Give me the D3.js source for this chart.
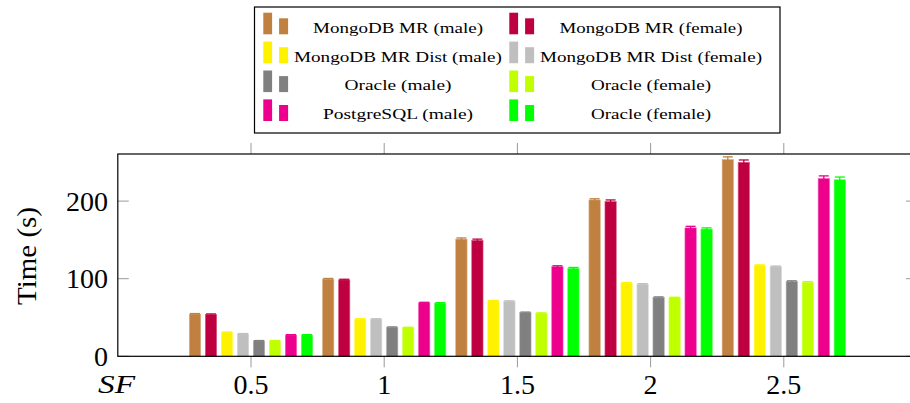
<!DOCTYPE html>
<html>
<head>
<meta charset="utf-8">
<script src="https://cdn.jsdelivr.net/npm/d3@7"></script>
<style>
  body { margin: 0; background: #fff; }
  svg { display: block; }
  text { font-family: "Liberation Serif", "DejaVu Serif", serif; fill: #000; }
</style>
</head>
<body>
<svg id="chart" width="910" height="403"></svg>
<script>
// scale factors (x axis) and y ticks
var groups = [0.5, 1, 1.5, 2, 2.5];
var xTickLabels = ["0.5", "1", "1.5", "2", "2.5"];
var yTicks = [0, 100, 200];

// legend labels, as printed in the figure
var seriesNames = [
  "MongoDB MR (male)", "MongoDB MR (female)",
  "MongoDB MR Dist (male)", "MongoDB MR Dist (female)",
  "Oracle (male)", "Oracle (female)",
  "PostgreSQL (male)", "Oracle (female)"
];
var seriesColors = ["#bf8040", "#bf0040", "#fff200", "#bfbfbf", "#808080", "#bfff00", "#ec008c", "#00ff00"];

// times in seconds, one value per SF
var mongoMale       = [54.5, 99.5, 151, 201.5, 253.5];
var mongoFemale     = [54, 98.5, 149.5, 199.5, 250];
var mongoDistMale   = [31, 48, 71.5, 94.5, 117];
var mongoDistFemale = [29, 48, 71, 93, 115.5];
var oracleMale      = [20, 37.5, 56.5, 76, 96.5];
var oracleFemale    = [20, 37, 55.5, 75.5, 95.5];
var postgresMale    = [27.5, 69, 115.5, 165.5, 229];
var postgresFemale  = [27.5, 68.5, 113.5, 164, 227.5];

// error bars (+/- s)
var mongoMaleErr       = [0.6, 0.8, 1.5, 1.5, 3.5];
var mongoFemaleErr     = [0.6, 0.8, 1.5, 2, 3];
var mongoDistMaleErr   = [0.3, 0.4, 0.5, 0.6, 0.8];
var mongoDistFemaleErr = [0.3, 0.4, 0.5, 0.6, 0.8];
var oracleMaleErr      = [0.3, 0.4, 0.5, 0.6, 0.8];
var oracleFemaleErr    = [0.3, 0.4, 0.5, 0.6, 0.8];
var postgresMaleErr    = [0.4, 0.6, 1.2, 2, 3.5];
var postgresFemaleErr  = [0.4, 0.6, 1, 1.5, 3.5];

var seriesValues = [mongoMale, mongoFemale, mongoDistMale, mongoDistFemale,
                    oracleMale, oracleFemale, postgresMale, postgresFemale];
var seriesErrors = [mongoMaleErr, mongoFemaleErr, mongoDistMaleErr, mongoDistFemaleErr,
                    oracleMaleErr, oracleFemaleErr, postgresMaleErr, postgresFemaleErr];

(function() {
  var svg = d3.select("#chart");

  // plot area
  var pLeft = 117.8, pRight = 917, pTop = 154, pBottom = 356.3;
  var x = d3.scaleLinear().domain([0, 3]).range([pLeft, pRight]);
  var y = d3.scaleLinear().domain([0, 260.7]).range([pBottom, pTop]);

  var barStep = 16, barWidth = 11.3;

  // bars
  var bars = [];
  seriesValues.forEach(function(vals, s) {
    vals.forEach(function(v, g) {
      bars.push({s: s, g: g, v: v, e: seriesErrors[s][g]});
    });
  });

  var barX = function(d) { return x(groups[d.g]) + (d.s - 3.5) * barStep; };

  svg.append("g").selectAll("rect").data(bars).enter().append("rect")
    .attr("x", function(d) { return barX(d) - barWidth / 2; })
    .attr("y", function(d) { return y(d.v); })
    .attr("width", barWidth)
    .attr("height", function(d) { return y(0) - y(d.v); })
    .attr("fill", function(d) { return seriesColors[d.s]; })
    .attr("stroke", function(d) { return d3.interpolateRgb(seriesColors[d.s], "#fff")(0.35); })
    .attr("stroke-width", 0.6);

  // error bars
  var eb = svg.append("g").selectAll("g").data(bars).enter().append("g")
    .attr("stroke", function(d) { return seriesColors[d.s]; })
    .attr("stroke-width", 1.3);
  eb.append("line")
    .attr("x1", barX).attr("x2", barX)
    .attr("y1", function(d) { return y(d.v + d.e); })
    .attr("y2", function(d) { return y(d.v - d.e); });
  eb.append("line")
    .attr("x1", function(d) { return barX(d) - 5; })
    .attr("x2", function(d) { return barX(d) + 5; })
    .attr("y1", function(d) { return y(d.v + d.e); })
    .attr("y2", function(d) { return y(d.v + d.e); });

  // ticks (gray)
  var tk = svg.append("g").attr("stroke", "#999").attr("stroke-width", 1);
  groups.forEach(function(g) {
    tk.append("line").attr("x1", x(g)).attr("x2", x(g)).attr("y1", pBottom).attr("y2", pBottom + 11);
    tk.append("line").attr("x1", x(g)).attr("x2", x(g)).attr("y1", pTop).attr("y2", pTop - 11);
  });
  yTicks.forEach(function(t) {
    tk.append("line").attr("x1", pLeft).attr("x2", pLeft + 11).attr("y1", y(t)).attr("y2", y(t));
    tk.append("line").attr("x1", pRight).attr("x2", pRight - 11).attr("y1", y(t)).attr("y2", y(t));
  });

  // frame
  svg.append("rect")
    .attr("x", pLeft).attr("y", pTop)
    .attr("width", pRight - pLeft).attr("height", pBottom - pTop)
    .attr("fill", "none").attr("stroke", "#000").attr("stroke-width", 1.2);

  // tick labels
  svg.append("g").selectAll("text").data(groups).enter().append("text")
    .attr("x", function(d) { return x(d); })
    .attr("y", 394)
    .attr("text-anchor", "middle")
    .attr("font-size", 28)
    .text(function(d, i) { return xTickLabels[i]; });

  svg.append("g").selectAll("text").data(yTicks).enter().append("text")
    .attr("x", 108)
    .attr("y", function(d) { return y(d) + 9.5; })
    .attr("text-anchor", "end")
    .attr("font-size", 28)
    .text(function(d) { return d; });

  svg.append("text")
    .attr("x", 98).attr("y", 393)
    .attr("font-size", 25).attr("font-style", "italic")
    .attr("textLength", 37).attr("lengthAdjust", "spacingAndGlyphs")
    .text("SF");

  svg.append("text")
    .attr("transform", "translate(36,256) rotate(-90)")
    .attr("text-anchor", "middle")
    .attr("font-size", 27)
    .attr("textLength", 98).attr("lengthAdjust", "spacingAndGlyphs")
    .text("Time (s)");

  // legend
  var legend = svg.append("g");
  legend.append("rect")
    .attr("x", 254.5).attr("y", 7)
    .attr("width", 525.5).attr("height", 126)
    .attr("fill", "#fff").attr("stroke", "#000").attr("stroke-width", 1.2);

  var legendTextWidths = [170, 183, 208, 222, 107, 120, 150, 120];
  var rowStep = 28.9;
  seriesNames.forEach(function(name, i) {
    var col = i % 2, row = Math.floor(i / 2);
    var ox = 263.3 + col * 246;
    var base = 34.3 + row * rowStep;
    legend.append("rect").attr("x", ox).attr("y", base - 21.6)
      .attr("width", 8.8).attr("height", 21.6).attr("fill", seriesColors[i]);
    legend.append("rect").attr("x", ox + 15.8).attr("y", base - 16)
      .attr("width", 9).attr("height", 16).attr("fill", seriesColors[i]);
    legend.append("text")
      .attr("x", col === 0 ? 398 : 651)
      .attr("y", 32.6 + row * rowStep)
      .attr("text-anchor", "middle")
      .attr("font-size", 15)
      .attr("textLength", legendTextWidths[i]).attr("lengthAdjust", "spacingAndGlyphs")
      .text(name);
  });
})();
</script>
</body>
</html>
